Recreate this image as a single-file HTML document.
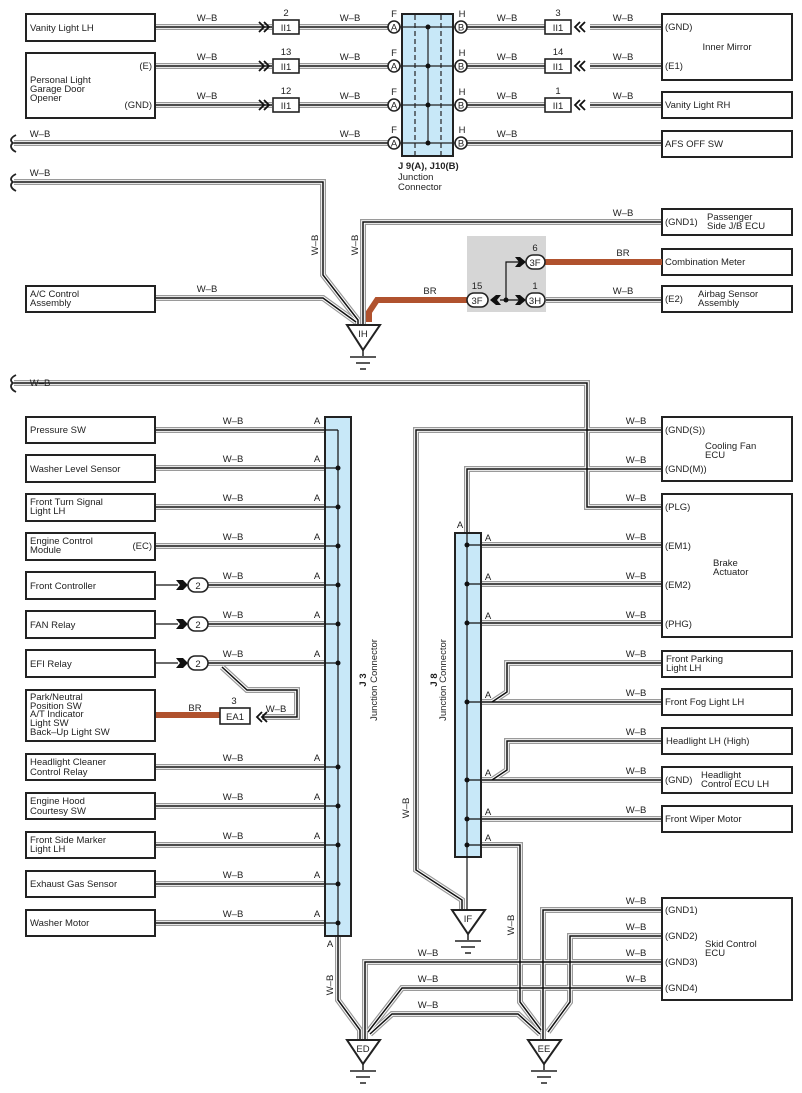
<!DOCTYPE html>
<html><head><meta charset="utf-8"><style>
html,body{margin:0;padding:0;background:#fff}
svg{display:block}
text{font-family:"Liberation Sans",sans-serif;font-size:9.5px;fill:#222}
.b{fill:#fff;stroke:#222;stroke-width:2}
.c{fill:#fff;stroke:#222;stroke-width:1.6}
.t{fill:#fff;stroke:#222;stroke-width:2}
</style></head><body>
<svg width="802" height="1093" viewBox="0 0 802 1093" xmlns="http://www.w3.org/2000/svg">
<defs>
<g id="W" fill="none">
<path d="M155,27H272M299,27H388M155,66H272M299,66H388M155,105H272M299,105H388M14,143H388"/>
<path d="M466,27H545M590,27H662M466,66H545M590,66H662M466,105H545M590,105H662M466,143H662"/>
<path d="M14,182H323V275L358,320V325"/>
<path d="M662,222H363V325"/>
<path d="M155,298H323L356,322"/>
<path d="M546,300H662"/>
<path d="M14,383H587V507H662"/>
<path d="M155,430H338M155,468H338M155,507H338M155,546H338M208,585H338M208,624H338M208,663H338M155,767H338M155,806H338M155,845H338M155,884H338M155,923H338"/>
<path d="M338,936V1000L360,1030V1040"/>
<path d="M222,667L247,690H297V717H262"/>
<path d="M481,545H662M481,584H662M481,623H662M481,702H662M481,780H662M481,819H662"/>
<path d="M481,845H520V1002L541,1030"/>
<path d="M467,533V469H662"/>
<path d="M662,430H416V870L462,900V910"/>
<path d="M662,663H507V692L492,702M662,741H507V770L492,780"/>
<path d="M662,910H543V1040"/>
<path d="M662,936H570V1002L548,1032"/>
<path d="M662,962H365V1040"/>
<path d="M662,988H402L368,1032"/>
<path d="M370,1034L392,1014H518L540,1034"/>
</g>
</defs>
<use href="#W" stroke="#9a9a9a" stroke-width="6"/>
<use href="#W" stroke="#fff" stroke-width="3.6"/>
<use href="#W" stroke="#111" stroke-width="1.5"/>

<!-- braces -->
<g fill="none" stroke="#222" stroke-width="1.8">
<path d="M16,135C10,138 10,141 13,143C10,145 10,149 16,152"/>
<path d="M16,174C10,177 10,180 13,182C10,184 10,188 16,191"/>
<path d="M16,375C10,378 10,381 13,383C10,385 10,389 16,392"/>
</g>

<!-- J9 connector -->
<rect x="402" y="14" width="51" height="142" fill="#c8e8f8" stroke="#222" stroke-width="2"/>
<g stroke="#222" stroke-width="1.2" stroke-dasharray="5,3"><line x1="415" y1="15" x2="415" y2="155"/><line x1="441" y1="15" x2="441" y2="155"/></g>
<g stroke="#222" stroke-width="1.2"><line x1="400" y1="27" x2="460" y2="27"/><line x1="400" y1="66" x2="460" y2="66"/><line x1="400" y1="105" x2="460" y2="105"/><line x1="400" y1="143" x2="460" y2="143"/><line x1="428" y1="27" x2="428" y2="143"/></g>
<g fill="#111"><circle cx="428" cy="27" r="2.5"/><circle cx="428" cy="66" r="2.5"/><circle cx="428" cy="105" r="2.5"/><circle cx="428" cy="143" r="2.5"/></g>
<g class="c">
<circle cx="394" cy="27" r="6"/><circle cx="394" cy="66" r="6"/><circle cx="394" cy="105" r="6"/><circle cx="394" cy="143" r="6"/>
<circle cx="461" cy="27" r="6"/><circle cx="461" cy="66" r="6"/><circle cx="461" cy="105" r="6"/><circle cx="461" cy="143" r="6"/>
</g>
<g text-anchor="middle">
<text x="394" y="30.5">A</text><text x="394" y="69.5">A</text><text x="394" y="108.5">A</text><text x="394" y="146.5">A</text>
<text x="461" y="30.5">B</text><text x="461" y="69.5">B</text><text x="461" y="108.5">B</text><text x="461" y="146.5">B</text>
<text x="394" y="17">F</text><text x="394" y="56">F</text><text x="394" y="95">F</text><text x="394" y="133">F</text>
<text x="462" y="17">H</text><text x="462" y="56">H</text><text x="462" y="95">H</text><text x="462" y="133">H</text>
</g>
<text x="398" y="169" style="font-weight:bold">J 9(A), J10(B)</text>
<text x="398" y="180">Junction</text><text x="398" y="190">Connector</text>

<!-- II1 terminals -->
<g class="c" stroke-width="1.8">
<rect x="273" y="20" width="26" height="14"/><rect x="273" y="59" width="26" height="14"/><rect x="273" y="98" width="26" height="14"/>
<rect x="545" y="20" width="26" height="14"/><rect x="545" y="59" width="26" height="14"/><rect x="545" y="98" width="26" height="14"/>
</g>
<g text-anchor="middle">
<text x="286" y="31">II1</text><text x="286" y="70">II1</text><text x="286" y="109">II1</text>
<text x="558" y="31">II1</text><text x="558" y="70">II1</text><text x="558" y="109">II1</text>
<text x="286" y="16">2</text><text x="286" y="55">13</text><text x="286" y="94">12</text>
<text x="558" y="16">3</text><text x="558" y="55">14</text><text x="558" y="94">1</text>
</g>
<g fill="none" stroke="#111" stroke-width="1.8">
<path d="M259,22L264,27L259,32M264,22L269,27L264,32M259,61L264,66L259,71M264,61L269,66L264,71M259,100L264,105L259,110M264,100L269,105L264,110"/>
<path d="M580,22L575,27L580,32M585,22L580,27L585,32M580,61L575,66L580,71M585,61L580,66L585,71M580,100L575,105L580,110M585,100L580,105L585,110"/>
<path d="M262,712L257,717L262,722M267,712L262,717L267,722"/>
</g>

<!-- boxes top -->
<rect class="b" x="26" y="14" width="129" height="27"/><text x="30" y="31">Vanity Light LH</text>
<rect class="b" x="26" y="53" width="129" height="65"/><text x="30" y="83">Personal Light</text><text x="30" y="92">Garage Door</text><text x="30" y="101">Opener</text><text x="152" y="69" text-anchor="end">(E)</text><text x="152" y="108" text-anchor="end">(GND)</text>
<rect class="b" x="662" y="14" width="130" height="66"/><text x="665" y="30">(GND)</text><text x="665" y="69">(E1)</text><text x="727" y="50" text-anchor="middle">Inner Mirror</text>
<rect class="b" x="662" y="92" width="130" height="26"/><text x="665" y="108">Vanity Light RH</text>
<rect class="b" x="662" y="131" width="130" height="26"/><text x="665" y="147">AFS OFF SW</text>
<rect class="b" x="662" y="209" width="130" height="26"/><text x="665" y="225">(GND1)</text><text x="707" y="220">Passenger</text><text x="707" y="229">Side J/B ECU</text>
<rect class="b" x="662" y="249" width="130" height="26"/><text x="665" y="265">Combination Meter</text>
<rect class="b" x="662" y="286" width="130" height="26"/><text x="665" y="302">(E2)</text><text x="698" y="297">Airbag Sensor</text><text x="698" y="306">Assembly</text>
<rect class="b" x="26" y="286" width="129" height="26"/><text x="30" y="297">A/C Control</text><text x="30" y="306">Assembly</text>

<!-- W-B labels top -->
<g text-anchor="middle">
<text x="207" y="21">W–B</text><text x="207" y="60">W–B</text><text x="207" y="99">W–B</text>
<text x="350" y="21">W–B</text><text x="350" y="60">W–B</text><text x="350" y="99">W–B</text><text x="350" y="137">W–B</text>
<text x="507" y="21">W–B</text><text x="507" y="60">W–B</text><text x="507" y="99">W–B</text><text x="507" y="137">W–B</text>
<text x="623" y="21">W–B</text><text x="623" y="60">W–B</text><text x="623" y="99">W–B</text>
<text x="40" y="137">W–B</text><text x="40" y="176">W–B</text>
<text x="623" y="216">W–B</text><text x="623" y="294">W–B</text><text x="207" y="292">W–B</text>
<text x="623" y="256">BR</text><text x="430" y="294">BR</text>
</g>
<text transform="translate(318,245) rotate(-90)" text-anchor="middle">W–B</text>
<text transform="translate(358,245) rotate(-90)" text-anchor="middle">W–B</text>

<!-- splice gray box -->
<rect x="467" y="236" width="79" height="76" fill="#d6d6d6"/>
<path d="M369,322L369,312L377,300H470" fill="none" stroke="#b0522e" stroke-width="6"/>
<path d="M544,262H662" fill="none" stroke="#b0522e" stroke-width="6"/>
<path d="M500,300H520M506,300V262H520" fill="none" stroke="#111" stroke-width="1.2"/>
<circle cx="506" cy="300" r="2.5" fill="#111"/>
<g fill="#111">
<path d="M490,300L496,295H501L497,300L501,305H496Z"/>
<path d="M526,300L520,295H515L519,300L515,305H520Z"/>
<path d="M526,262L520,257H515L519,262L515,267H520Z"/>
</g>
<g class="c"><rect x="467" y="293" width="21" height="14" rx="7"/><rect x="526" y="293" width="19" height="14" rx="7"/><rect x="526" y="255" width="19" height="14" rx="7"/></g>
<g text-anchor="middle"><text x="477" y="304">3F</text><text x="535" y="304">3H</text><text x="535" y="266">3F</text><text x="477" y="289">15</text><text x="535" y="289">1</text><text x="535" y="251">6</text></g>

<!-- grounds -->
<g>
<path class="t" d="M347,325H380L363,350Z"/><text x="363" y="337" text-anchor="middle">IH</text>
<path class="t" d="M452,910H485L468,934Z"/><text x="468" y="922" text-anchor="middle">IF</text>
<path class="t" d="M347,1040H380L363,1064Z"/><text x="363" y="1052" text-anchor="middle">ED</text>
<path class="t" d="M528,1040H561L544,1064Z"/><text x="544" y="1052" text-anchor="middle">EE</text>
</g>
<g stroke="#222" stroke-width="1.5">
<path d="M363,350V356M350,357H376M356,363H370M360,369H366"/>
<path d="M468,934V940M455,941H481M461,947H475M465,953H471"/>
<path d="M363,1064V1070M350,1071H376M356,1077H370M360,1083H366"/>
<path d="M544,1064V1070M531,1071H557M537,1077H551M541,1083H547"/>
</g>

<!-- J3 connector -->
<rect x="325" y="417" width="26" height="519" fill="#c8e8f8" stroke="#222" stroke-width="2"/>
<line x1="338" y1="430" x2="338" y2="936" stroke="#111" stroke-width="1.2"/>
<g stroke="#111" stroke-width="1.2"><path d="M325,430H338M325,468H338M325,507H338M325,546H338M325,585H338M325,624H338M325,663H338M325,767H338M325,806H338M325,845H338M325,884H338M325,923H338"/></g>
<g fill="#111">
<circle cx="338" cy="468" r="2.5"/><circle cx="338" cy="507" r="2.5"/><circle cx="338" cy="546" r="2.5"/><circle cx="338" cy="585" r="2.5"/><circle cx="338" cy="624" r="2.5"/><circle cx="338" cy="663" r="2.5"/><circle cx="338" cy="767" r="2.5"/><circle cx="338" cy="806" r="2.5"/><circle cx="338" cy="845" r="2.5"/><circle cx="338" cy="884" r="2.5"/><circle cx="338" cy="923" r="2.5"/>
</g>
<g text-anchor="middle">
<text x="317" y="424">A</text><text x="317" y="462">A</text><text x="317" y="501">A</text><text x="317" y="540">A</text><text x="317" y="579">A</text><text x="317" y="618">A</text><text x="317" y="657">A</text><text x="317" y="761">A</text><text x="317" y="800">A</text><text x="317" y="839">A</text><text x="317" y="878">A</text><text x="317" y="917">A</text><text x="330" y="947">A</text>
<text x="233" y="424">W–B</text><text x="233" y="462">W–B</text><text x="233" y="501">W–B</text><text x="233" y="540">W–B</text><text x="233" y="579">W–B</text><text x="233" y="618">W–B</text><text x="233" y="657">W–B</text><text x="233" y="761">W–B</text><text x="233" y="800">W–B</text><text x="233" y="839">W–B</text><text x="233" y="878">W–B</text><text x="233" y="917">W–B</text>
<text x="40" y="386">W–B</text><text x="276" y="712">W–B</text><text x="195" y="711">BR</text><text x="234" y="704">3</text>
</g>
<text transform="translate(366,680) rotate(-90)" text-anchor="middle"><tspan style="font-weight:bold">J 3</tspan></text>
<text transform="translate(374,680) rotate(-90)" text-anchor="middle" dy="3">Junction Connector</text>

<!-- "2" connectors -->
<g stroke="#111" stroke-width="1.2"><path d="M155,585H178M155,624H178M155,663H178"/></g>
<g fill="#111"><path d="M176,580L183,580L188,585L183,590L176,590L180,585Z"/><path d="M176,619L183,619L188,624L183,629L176,629L180,624Z"/><path d="M176,658L183,658L188,663L183,668L176,668L180,663Z"/></g>
<g class="c"><rect x="188" y="578" width="20" height="14" rx="7"/><rect x="188" y="617" width="20" height="14" rx="7"/><rect x="188" y="656" width="20" height="14" rx="7"/></g>
<g text-anchor="middle"><text x="198" y="589">2</text><text x="198" y="628">2</text><text x="198" y="667">2</text></g>

<!-- EA1 -->
<path d="M155,715H220" stroke="#b0522e" stroke-width="6"/>
<rect class="c" x="220" y="708" width="30" height="16"/><text x="235" y="720" text-anchor="middle">EA1</text>

<!-- boxes left lower -->
<rect class="b" x="26" y="417" width="129" height="26"/><text x="30" y="433">Pressure SW</text>
<rect class="b" x="26" y="455" width="129" height="27"/><text x="30" y="472">Washer Level Sensor</text>
<rect class="b" x="26" y="494" width="129" height="27"/><text x="30" y="505">Front Turn Signal</text><text x="30" y="514">Light LH</text>
<rect class="b" x="26" y="533" width="129" height="27"/><text x="30" y="544">Engine Control</text><text x="30" y="553">Module</text><text x="152" y="549" text-anchor="end">(EC)</text>
<rect class="b" x="26" y="572" width="129" height="27"/><text x="30" y="589">Front Controller</text>
<rect class="b" x="26" y="611" width="129" height="27"/><text x="30" y="628">FAN Relay</text>
<rect class="b" x="26" y="650" width="129" height="27"/><text x="30" y="667">EFI Relay</text>
<rect class="b" x="26" y="690" width="129" height="51"/><text x="30" y="700">Park/Neutral</text><text x="30" y="709">Position SW</text><text x="30" y="717">A/T Indicator</text><text x="30" y="726">Light SW</text><text x="30" y="735">Back–Up Light SW</text>
<rect class="b" x="26" y="754" width="129" height="26"/><text x="30" y="765">Headlight Cleaner</text><text x="30" y="775">Control Relay</text>
<rect class="b" x="26" y="793" width="129" height="26"/><text x="30" y="804">Engine Hood</text><text x="30" y="814">Courtesy SW</text>
<rect class="b" x="26" y="832" width="129" height="26"/><text x="30" y="843">Front Side Marker</text><text x="30" y="852">Light LH</text>
<rect class="b" x="26" y="871" width="129" height="26"/><text x="30" y="887">Exhaust Gas Sensor</text>
<rect class="b" x="26" y="910" width="129" height="26"/><text x="30" y="926">Washer Motor</text>

<!-- J8 connector -->
<rect x="455" y="533" width="26" height="324" fill="#c8e8f8" stroke="#222" stroke-width="2"/>
<line x1="467" y1="533" x2="467" y2="910" stroke="#111" stroke-width="1.2"/>
<g stroke="#111" stroke-width="1.2"><path d="M467,545H481M467,584H481M467,623H481M467,702H481M467,780H481M467,819H481M467,845H481"/></g>
<g fill="#111"><circle cx="467" cy="545" r="2.5"/><circle cx="467" cy="584" r="2.5"/><circle cx="467" cy="623" r="2.5"/><circle cx="467" cy="702" r="2.5"/><circle cx="467" cy="780" r="2.5"/><circle cx="467" cy="819" r="2.5"/><circle cx="467" cy="845" r="2.5"/></g>
<g text-anchor="middle">
<text x="460" y="528">A</text><text x="488" y="541">A</text><text x="488" y="580">A</text><text x="488" y="619">A</text><text x="488" y="698">A</text><text x="488" y="776">A</text><text x="488" y="815">A</text><text x="488" y="841">A</text>
<text x="636" y="424">W–B</text><text x="636" y="463">W–B</text><text x="636" y="501">W–B</text><text x="636" y="540">W–B</text><text x="636" y="579">W–B</text><text x="636" y="618">W–B</text><text x="636" y="657">W–B</text><text x="636" y="696">W–B</text><text x="636" y="735">W–B</text><text x="636" y="774">W–B</text><text x="636" y="813">W–B</text>
<text x="636" y="904">W–B</text><text x="636" y="930">W–B</text><text x="636" y="956">W–B</text><text x="636" y="982">W–B</text>
<text x="428" y="956">W–B</text><text x="428" y="982">W–B</text><text x="428" y="1008">W–B</text>
</g>
<text transform="translate(437,680) rotate(-90)" text-anchor="middle" style="font-weight:bold">J 8</text>
<text transform="translate(446,680) rotate(-90)" text-anchor="middle">Junction Connector</text>
<text transform="translate(409,808) rotate(-90)" text-anchor="middle">W–B</text>
<text transform="translate(514,925) rotate(-90)" text-anchor="middle">W–B</text>
<text transform="translate(333,985) rotate(-90)" text-anchor="middle">W–B</text>

<!-- boxes right lower -->
<rect class="b" x="662" y="417" width="130" height="64"/><text x="665" y="433">(GND(S))</text><text x="665" y="472">(GND(M))</text><text x="705" y="449">Cooling Fan</text><text x="705" y="458">ECU</text>
<rect class="b" x="662" y="494" width="130" height="143"/><text x="665" y="510">(PLG)</text><text x="665" y="549">(EM1)</text><text x="665" y="588">(EM2)</text><text x="665" y="627">(PHG)</text><text x="713" y="566">Brake</text><text x="713" y="575">Actuator</text>
<rect class="b" x="662" y="651" width="130" height="26"/><text x="666" y="662">Front Parking</text><text x="666" y="671">Light LH</text>
<rect class="b" x="662" y="689" width="130" height="26"/><text x="665" y="705">Front Fog Light LH</text>
<rect class="b" x="662" y="728" width="130" height="26"/><text x="666" y="744">Headlight LH (High)</text>
<rect class="b" x="662" y="767" width="130" height="26"/><text x="665" y="783">(GND)</text><text x="701" y="778">Headlight</text><text x="701" y="787">Control ECU LH</text>
<rect class="b" x="662" y="806" width="130" height="26"/><text x="665" y="822">Front Wiper Motor</text>
<rect class="b" x="662" y="898" width="130" height="102"/><text x="665" y="913">(GND1)</text><text x="665" y="939">(GND2)</text><text x="665" y="965">(GND3)</text><text x="665" y="991">(GND4)</text><text x="705" y="947">Skid Control</text><text x="705" y="956">ECU</text>
</svg>
</body></html>
